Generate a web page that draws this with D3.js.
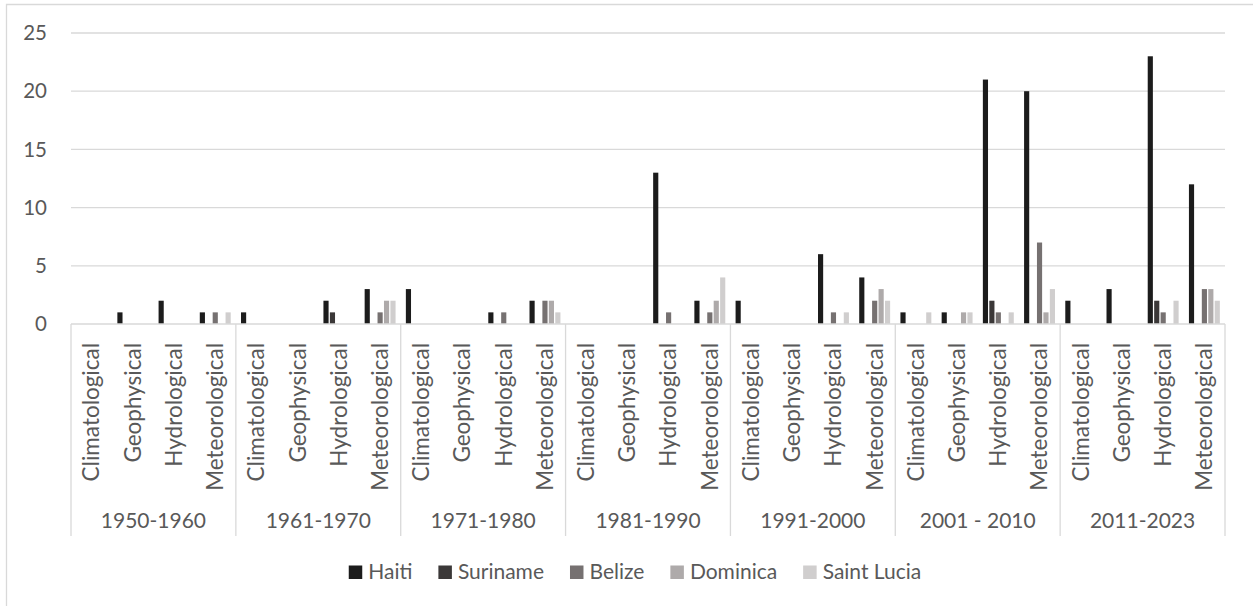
<!DOCTYPE html>
<html lang="en">
  <head>
    <meta charset="UTF-8" />
    <title>Disasters by decade and type</title>
    <script src="https://d3js.org/d3.v7.min.js"></script>
    <style>
      body {
        margin: 0;
        background: #fff;
        font-family: Lato, 'Open Sans', sans-serif;
      }
      svg text {
        fill: #595959;
      }
    </style>
  </head>
  <body>
    <svg width="1253" height="606"></svg>

    <script>
      const decades = ['1950-1960', '1961-1970', '1971-1980', '1981-1990', '1991-2000', '2001 - 2010', '2011-2023'];
      const types = ['Climatological', 'Geophysical', 'Hydrological', 'Meteorological'];
      const countries = ['Haiti', 'Suriname', 'Belize', 'Dominica', 'Saint Lucia'];
      const yTicks = [0, 5, 10, 15, 20, 25];

      // one value per decade x type, in decade order
      const haiti = [0, 1, 2, 1, 1, 0, 2, 3, 3, 0, 1, 2, 0, 0, 13, 2, 2, 0, 6, 4, 1, 1, 21, 20, 2, 3, 23, 12];
      const suriname = [0, 0, 0, 0, 0, 0, 1, 0, 0, 0, 0, 0, 0, 0, 0, 0, 0, 0, 0, 0, 0, 0, 2, 0, 0, 0, 2, 0];
      const belize = [0, 0, 0, 1, 0, 0, 0, 1, 0, 0, 1, 2, 0, 0, 1, 1, 0, 0, 1, 2, 0, 0, 1, 7, 0, 0, 1, 3];
      const dominica = [0, 0, 0, 0, 0, 0, 0, 2, 0, 0, 0, 2, 0, 0, 0, 2, 0, 0, 0, 3, 0, 1, 0, 1, 0, 0, 0, 3];
      const saintLucia = [0, 0, 0, 1, 0, 0, 0, 2, 0, 0, 0, 1, 0, 0, 0, 4, 0, 0, 1, 2, 1, 1, 1, 3, 0, 0, 2, 2];

      const seriesValues = [haiti, suriname, belize, dominica, saintLucia];
      const colors = ['#1c1c1c', '#3b3838', '#767171', '#aeaaaa', '#d0cece'];

      const svg = d3.select('svg');
      const plotLeft = 71, plotRight = 1225, plotTop = 33, plotBottom = 324;

      // outer chart frame
      svg.append('path')
        .attr('d', 'M6.5,606 V4.5 H1253')
        .attr('fill', 'none')
        .attr('stroke', '#d9d9d9')
        .attr('stroke-width', 1.3);

      const keys = [];
      decades.forEach((d) => types.forEach((t) => keys.push(d + '|' + t)));

      const x = d3.scaleBand().domain(keys).range([plotLeft, plotRight])
        .paddingInner(0.25).paddingOuter(0.125);
      const xs = d3.scaleBand().domain(countries).range([0, x.bandwidth()]).paddingInner(0.2);
      const y = d3.scaleLinear().domain([0, 25]).range([plotBottom, plotTop]);

      // gridlines
      svg.append('g')
        .selectAll('line')
        .data(yTicks.slice(1))
        .join('line')
        .attr('x1', plotLeft).attr('x2', plotRight)
        .attr('y1', (d) => y(d)).attr('y2', (d) => y(d))
        .attr('stroke', '#d9d9d9')
        .attr('stroke-width', 1.3);

      // y tick labels
      svg.append('g')
        .selectAll('text')
        .data(yTicks)
        .join('text')
        .attr('x', 47)
        .attr('y', (d) => y(d))
        .attr('dy', '0.35em')
        .attr('text-anchor', 'end')
        .style('font-size', '20.5px')
        .text((d) => d);

      // bars
      const rows = [];
      countries.forEach((c, si) => {
        keys.forEach((k, i) => rows.push({ key: k, country: c, si: si, value: seriesValues[si][i] }));
      });

      svg.append('g')
        .selectAll('rect')
        .data(rows.filter((d) => d.value > 0))
        .join('rect')
        .attr('x', (d) => x(d.key) + xs(d.country))
        .attr('width', xs.bandwidth())
        .attr('y', (d) => y(d.value))
        .attr('height', (d) => y(0) - y(d.value))
        .attr('fill', (d) => colors[d.si]);

      // x axis baseline and group dividers
      svg.append('line')
        .attr('x1', plotLeft).attr('x2', plotRight)
        .attr('y1', plotBottom).attr('y2', plotBottom)
        .attr('stroke', '#d9d9d9')
        .attr('stroke-width', 1.3);

      const groupW = (plotRight - plotLeft) / decades.length;
      svg.append('g')
        .selectAll('line')
        .data(d3.range(decades.length + 1))
        .join('line')
        .attr('x1', (i) => plotLeft + i * groupW).attr('x2', (i) => plotLeft + i * groupW)
        .attr('y1', plotBottom).attr('y2', 536)
        .attr('stroke', '#d9d9d9')
        .attr('stroke-width', 1.3);

      // category labels (rotated)
      svg.append('g')
        .selectAll('text')
        .data(keys)
        .join('text')
        .attr('transform', (k) => `translate(${x(k) + x.bandwidth() / 2},343) rotate(-90)`)
        .attr('text-anchor', 'end')
        .attr('dy', '0.35em')
        .style('font-size', '22.5px')
        .text((k) => k.split('|')[1]);

      // decade labels
      svg.append('g')
        .selectAll('text')
        .data(decades)
        .join('text')
        .attr('x', (d, i) => plotLeft + (i + 0.5) * groupW)
        .attr('y', 528)
        .attr('text-anchor', 'middle')
        .style('font-size', '21px')
        .text((d) => d);

      // legend
      const legend = svg.append('g');
      const items = legend.selectAll('g').data(countries).join('g');
      items.append('rect')
        .attr('width', 13.5).attr('height', 13.5)
        .attr('y', 565.5)
        .attr('fill', (d, i) => colors[i]);
      items.append('text')
        .attr('x', 19.5)
        .attr('y', 579)
        .style('font-size', '21px')
        .text((d) => d);
      let pos = 0;
      items.each(function () {
        const w = this.getBBox().width;
        d3.select(this).attr('data-x', pos);
        pos += w + 26;
      });
      const total = pos - 26;
      const start = 635 - total / 2;
      items.attr('transform', function () {
        return `translate(${start + +this.getAttribute('data-x')},0)`;
      });
    </script>
  </body>
</html>
